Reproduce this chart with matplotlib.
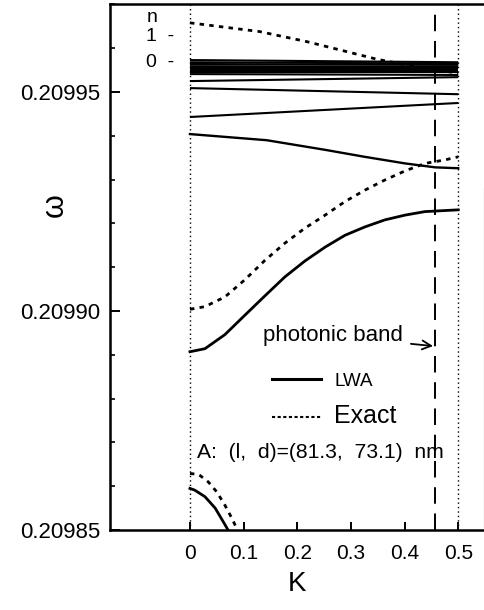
import matplotlib
matplotlib.use("Agg")
import matplotlib.pyplot as plt
from matplotlib.ticker import MultipleLocator, FormatStrFormatter
from matplotlib.lines import Line2D

plt.rcParams['font.family'] = ['Liberation Sans', 'DejaVu Sans']

# --- data (K, omega) ---
# n = 0 cluster near the top: nearly flat LWA lines, given at K=0 and K=0.5
k_flat = [0, 0.5]
w_flat = [
    [0.2099573, 0.2099568],
    [0.2099568, 0.2099565],
    [0.2099564, 0.2099562],
    [0.2099559, 0.2099558],
    [0.2099555, 0.2099555],
    [0.2099550, 0.2099550],
    [0.2099546, 0.2099546],
    [0.2099541, 0.2099539],
    [0.2099525, 0.2099534],
    [0.2099509, 0.2099495],
    [0.2099443, 0.2099475],
]

# curved LWA line just below the cluster
k_lwa_mid = [0, 0.143, 0.252, 0.326, 0.401, 0.457, 0.5]
w_lwa_mid = [0.2099404, 0.2099390, 0.2099368, 0.2099352, 0.2099337, 0.2099328, 0.2099326]

# n = 1 exact (top dashed)
k_exact_top = [0, 0.13, 0.218, 0.28, 0.348, 0.42, 0.5]
w_exact_top = [0.2099658, 0.2099638, 0.2099615, 0.2099596, 0.2099575, 0.2099558, 0.2099543]

# rising band, LWA and exact
k_lwa_low = [0, 0.028, 0.065, 0.102, 0.140, 0.177, 0.214, 0.252, 0.289, 0.326, 0.363, 0.401, 0.438, 0.5]
w_lwa_low = [0.2098907, 0.2098914, 0.2098946, 0.2098990, 0.2099035, 0.2099078, 0.2099114,
             0.2099146, 0.2099173, 0.2099192, 0.2099208, 0.2099219, 0.2099227, 0.2099231]

k_exact_low = [0, 0.028, 0.065, 0.102, 0.140, 0.177, 0.214, 0.252, 0.289, 0.326, 0.363, 0.401, 0.438, 0.475, 0.5]
w_exact_low = [0.2099004, 0.2099010, 0.2099032, 0.2099071, 0.2099116, 0.2099155, 0.2099189, 0.2099219,
               0.2099250, 0.2099276, 0.2099299, 0.2099320, 0.2099337, 0.2099345, 0.2099352]

# bottom band dropping off the axis
k_lwa_bot = [0, 0.009, 0.028, 0.047, 0.062, 0.071]
w_lwa_bot = [0.2098595, 0.2098591, 0.2098576, 0.2098550, 0.2098519, 0.2098500]
k_exact_bot = [0, 0.016, 0.034, 0.05, 0.065, 0.078, 0.087]
w_exact_bot = [0.2098629, 0.2098627, 0.2098610, 0.2098587, 0.2098557, 0.2098527, 0.2098504]

k_photonic = 0.457
k_zone = [0, 0.5]
x_ticks = [0, 0.1, 0.2, 0.3, 0.4, 0.5]
x_ticklabels = ['0', '0.1', '0.2', '0.3', '0.4', '0.5']

dash = (0, (1.6, 1.9))

fig = plt.figure(figsize=(4.85, 6.10), dpi=100)
ax = fig.add_axes([110/485, 80/610, 374/485, 526/610])

for w in w_flat:
    ax.plot(k_flat, w, color='black', lw=1.5, solid_capstyle='butt')
ax.plot(k_lwa_mid, w_lwa_mid, color='black', lw=1.7)
ax.plot(k_lwa_low, w_lwa_low, color='black', lw=2.0)
ax.plot(k_lwa_bot, w_lwa_bot, color='black', lw=2.0)
ax.plot(k_exact_top, w_exact_top, color='black', lw=2.0, linestyle=dash)
ax.plot(k_exact_low, w_exact_low, color='black', lw=2.0, linestyle=dash)
ax.plot(k_exact_bot, w_exact_bot, color='black', lw=2.0, linestyle=dash)

for k in k_zone:
    ax.axvline(k, color='black', lw=1.0, linestyle=(0, (1, 2.2)))
ax.axvline(k_photonic, color='black', lw=1.4, linestyle=(0, (8.5, 5)))

ax.set_xlim(-0.149, 0.548)
ax.set_ylim(0.20985, 0.2099701)

ax.set_xticks(x_ticks)
ax.set_xticklabels(x_ticklabels)
ax.yaxis.set_major_locator(MultipleLocator(0.00005))
ax.yaxis.set_minor_locator(MultipleLocator(0.00001))
ax.yaxis.set_major_formatter(FormatStrFormatter('%.5f'))
ax.tick_params(axis='x', direction='in', length=6, width=1.4, labelsize=15, pad=10)
ax.tick_params(axis='y', which='major', direction='in', length=7, width=1.4, labelsize=16, pad=7)
ax.tick_params(axis='y', which='minor', direction='in', length=3.6, width=1.2)
ax.tick_params(top=False, right=False)

for s in ['left', 'bottom', 'top']:
    ax.spines[s].set_linewidth(1.8)
ax.spines['right'].set_color('0.6')
ax.spines['right'].set_linewidth(0.8)
ax.spines['right'].set_bounds(0.20985, 0.2099281)

ax.set_xlabel('K', fontsize=20, labelpad=6)
ax.set_ylabel('ω', fontsize=22)
ax.yaxis.set_label_coords(-0.107, 0.618)

# n labels on the left
ax.text(-0.081, 0.2099671, 'n', fontsize=14, va='center')
ax.text(-0.081, 0.2099626, '1  -', fontsize=14, va='center')
ax.text(-0.081, 0.2099568, '0  -', fontsize=14, va='center')

ax.annotate('photonic band', xy=(0.453, 0.2098920), xytext=(0.266, 0.2098943),
            fontsize=16, ha='center', va='center',
            arrowprops=dict(arrowstyle='->', color='black', lw=1.3, shrinkA=4, shrinkB=0))

ax.text(0.013, 0.2098678, 'A:  (l,  d)=(81.3,  73.1)  nm', fontsize=15.2, va='center')

handles = [Line2D([], [], color='black', lw=2.2),
           Line2D([], [], color='black', lw=1.5, linestyle=(0, (1.5, 1.2)))]
leg = ax.legend(handles, ['LWA', 'Exact'], loc='upper left', bbox_to_anchor=(0.433, 0.300),
                frameon=False, fontsize=14, handlelength=2.5, handletextpad=0.7,
                labelspacing=0.75, borderpad=0, borderaxespad=0)
leg.get_texts()[0].set_fontsize(13.5)
leg.get_texts()[1].set_fontsize(18)

fig.savefig('out.png', dpi=100)
